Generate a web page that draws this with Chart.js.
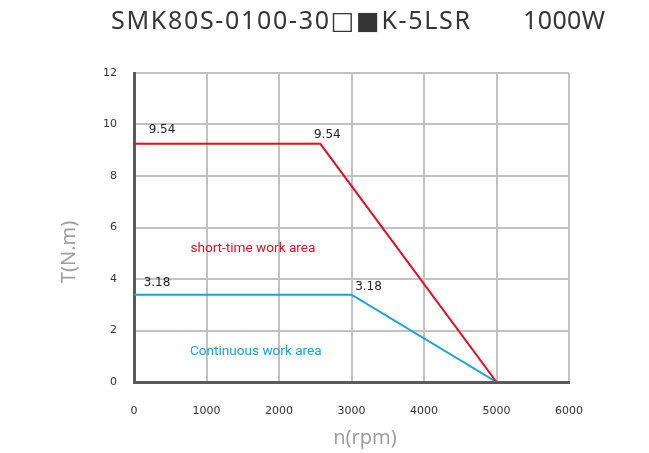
<!DOCTYPE html>
<html lang="en">
<head>
    <title>SMK80S-0100-30 torque curve</title>
    <script src="https://cdn.jsdelivr.net/npm/chart.js"></script>
    <style>
        body {
            margin: 0;
            background-color: white;
        }

        #wrap {
            width: 649px;
            height: 453px;
        }
    </style>
</head>
<body>

    <div id="wrap">
        <canvas id="torqueChart" width="649" height="453"></canvas>
    </div>

    <script>
        // values
        const modelName = "SMK80S-0100-30\u25A1\u25A0K-5LSR";
        const ratedPower = "1000W";

        const xTicks = [0, 1000, 2000, 3000, 4000, 5000, 6000];
        const yTicks = [0, 2, 4, 6, 8, 10, 12];

        // short-time (peak) curve
        const speedShort = [0, 2570, 5000];
        const torqueShort = [9.25, 9.25, 0];

        // continuous curve
        const speedCont = [0, 3000, 5000];
        const torqueCont = [3.39, 3.39, 0];

        // value labels printed next to the corners
        const shortLabels = ["9.54", "9.54"];
        const contLabels = ["3.18", "3.18"];

        const areaNames = ["short-time work area", "Continuous work area"];

        const RED = "#e50f23";
        const BLUE = "#15a3e6";

        function toPoints(xs, ys) {
            return xs.map((x, i) => ({ x: x, y: ys[i] }));
        }

        // nudge letter spacing so the text spans a given width
        function spreadText(ctx, text, left, y, width) {
            ctx.letterSpacing = "0px";
            const w = ctx.measureText(text).width;
            const gap = (width - w) / Math.max(1, text.length - 1);
            ctx.letterSpacing = gap.toFixed(2) + "px";
            ctx.fillText(text, left, y);
            ctx.letterSpacing = "0px";
        }

        const textPlugin = {
            id: "textPlugin",
            afterDraw(chart) {
                const ctx = chart.ctx;
                const xs = chart.scales.x;
                const ys = chart.scales.y;
                ctx.save();

                // title
                ctx.fillStyle = "#363636";
                ctx.font = "25px 'Noto Sans', 'DejaVu Sans', sans-serif";
                ctx.textBaseline = "middle";
                ctx.textAlign = "left";
                spreadText(ctx, modelName, 111, 22, 359);
                spreadText(ctx, ratedPower, 523, 22, 82);

                // axis titles
                ctx.fillStyle = "#9e9e9e";
                ctx.font = "20px 'Noto Sans', sans-serif";
                ctx.textAlign = "center";
                ctx.fillText("n(rpm)", 365, 438);
                ctx.save();
                ctx.translate(69, 252);
                ctx.rotate(-Math.PI / 2);
                ctx.fillText("T(N.m)", 0, 0);
                ctx.restore();

                // corner value labels, anchored to the curve points
                const shortMeta = chart.getDatasetMeta(0).data;
                const contMeta = chart.getDatasetMeta(1).data;
                ctx.fillStyle = "#222";
                ctx.font = "12px 'DejaVu Sans', sans-serif";
                const shortOff = [[28, -14], [7, -9]];
                const contOff = [[23, -12], [17, -8]];
                shortLabels.forEach((t, i) => {
                    ctx.fillText(t, shortMeta[i].x + shortOff[i][0], shortMeta[i].y + shortOff[i][1]);
                });
                contLabels.forEach((t, i) => {
                    ctx.fillText(t, contMeta[i].x + contOff[i][0], contMeta[i].y + contOff[i][1]);
                });

                // area names
                ctx.font = "13.6px Roboto, sans-serif";
                ctx.fillStyle = RED;
                ctx.fillText(areaNames[0], xs.getPixelForValue(1640), ys.getPixelForValue(5.18));
                ctx.fillStyle = BLUE;
                ctx.fillText(areaNames[1], xs.getPixelForValue(1680), ys.getPixelForValue(1.19));

                ctx.restore();
            }
        };

        new Chart(document.getElementById("torqueChart").getContext("2d"), {
            type: "scatter",
            data: {
                datasets: [{
                    data: toPoints(speedShort, torqueShort),
                    showLine: true,
                    borderColor: RED,
                    borderWidth: 2,
                    pointRadius: 0,
                    tension: 0
                }, {
                    data: toPoints(speedCont, torqueCont),
                    showLine: true,
                    borderColor: BLUE,
                    borderWidth: 2,
                    pointRadius: 0,
                    tension: 0
                }]
            },
            options: {
                responsive: false,
                animation: false,
                layout: {
                    padding: { left: 0, right: 80, top: 73, bottom: 0 }
                },
                plugins: {
                    legend: { display: false },
                    tooltip: { enabled: false }
                },
                scales: {
                    x: {
                        type: "linear",
                        min: 0,
                        max: 6000,
                        afterBuildTicks: s => { s.ticks = xTicks.map(v => ({ value: v })); },
                        afterFit: s => { s.height = 71; },
                        grid: { color: "#c2c2c2", lineWidth: 2, drawTicks: false },
                        border: { color: "#5a5a5a", width: 3 },
                        ticks: {
                            padding: 23,
                            color: "#333",
                            font: { family: "'DejaVu Sans', sans-serif", size: 11 },
                            callback: v => String(v)
                        }
                    },
                    y: {
                        min: 0,
                        max: 12,
                        afterBuildTicks: s => { s.ticks = yTicks.map(v => ({ value: v })); },
                        afterFit: s => { s.width = 134; },
                        grid: { color: "#c2c2c2", lineWidth: 2, drawTicks: false },
                        border: { color: "#5a5a5a", width: 3 },
                        ticks: {
                            padding: 17,
                            color: "#333",
                            font: { family: "'DejaVu Sans', sans-serif", size: 11 }
                        }
                    }
                }
            },
            plugins: [textPlugin]
        });
    </script>

</body>
</html>
